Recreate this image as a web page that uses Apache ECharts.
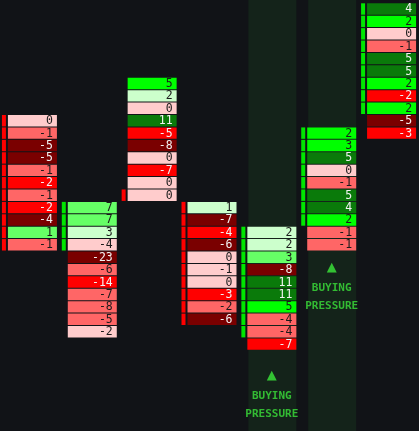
<!DOCTYPE html>
<html>
<head>
<meta charset="utf-8">
<script src="https://cdn.jsdelivr.net/npm/echarts@6/dist/echarts.min.js"></script>
<style>
html,body{margin:0;padding:0;background:#111317;}
#main{width:419px;height:431px;}
</style>
</head>
<body>
<div id="main"></div>
<script>
// first price row (from top) of each bar column
var startRow = [9, 16, 6, 16, 18, 10, 0];
// delta per price level
var deltas = [
	[0, -1, -5, -5, -1, -2, -1, -2, -4, 1, -1],
	[7, 7, 3, -4, -23, -6, -14, -7, -8, -5, -2],
	[5, 2, 0, 11, -5, -8, 0, -7, 0, 0],
	[1, -7, -4, -6, 0, -1, 0, -3, -2, -6],
	[2, 2, 3, -8, 11, 11, 5, -4, -4, -7],
	[2, 3, 5, 0, -1, 5, 4, 2, -1, -1],
	[4, 2, 0, -1, 5, 5, 2, -2, 2, -5, -3]
];
// strength of each cell: +4 strong buy ... -4 strong sell
var strength = [
	[-1, -2, -4, -4, -2, -3, -2, -3, -4, 2, -2],
	[2, 2, 1, -1, -4, -2, -3, -2, -2, -2, -1],
	[3, 1, -1, 4, -3, -4, -1, -3, -1, -1],
	[1, -4, -3, -4, -1, -1, -1, -3, -2, -4],
	[1, 1, 2, -4, 4, 4, 3, -2, -2, -3],
	[3, 3, 4, -1, -2, 4, 4, 3, -2, -2],
	[4, 3, -1, -2, 4, 4, 3, -3, 3, -4, -3]
];
// side marker: 1 buy imbalance, -1 sell imbalance, 0 none
var sideMark = [
	[-1, -1, -1, -1, -1, -1, -1, -1, -1, -1, -1],
	[1, 1, 1, 1, 0, 0, 0, 0, 0, 0, 0],
	[0, 0, 0, 0, 0, 0, 0, 0, 0, -1],
	[-1, -1, -1, -1, -1, -1, -1, -1, -1, -1],
	[1, 1, 1, 1, 1, 1, 1, 1, 1, 0],
	[1, 1, 1, 1, 1, 1, 1, 1, 0, 0],
	[1, 1, 1, 1, 1, 1, 1, 1, 1, 0, 0]
];
// columns flagged with buying pressure and the row of the arrow
var pressureCols = [4, 5];
var pressureRow = [29.5, 20.8];

var fillColor = {
	'4': '#0a7a0a', '3': '#00ff00', '2': '#66ff66', '1': '#ccffcc',
	'-1': '#ffcccc', '-2': '#ff6666', '-3': '#ff0000', '-4': '#7a0000'
};
var textColor = {
	'4': '#f2f2f2', '3': '#1a1a1a', '2': '#1a1a1a', '1': '#1a1a1a',
	'-1': '#1a1a1a', '-2': '#1a1a1a', '-3': '#f2f2f2', '-4': '#f2f2f2'
};

var cells = [];
for (var c = 0; c < deltas.length; c++) {
	for (var k = 0; k < deltas[c].length; k++) {
		cells.push([c, startRow[c] + k, deltas[c][k], strength[c][k], sideMark[c][k]]);
	}
}
var pressure = [];
for (var p = 0; p < pressureCols.length; p++) {
	pressure.push([pressureCols[p], pressureRow[p]]);
}

function renderCell(params, api) {
	var pt = api.coord([api.value(0), api.value(1)]);
	var h = api.size([1, 1])[1];
	var s = String(api.value(3));
	var top = pt[1] - (h - 1) / 2;
	var kids = [{
		type: 'rect',
		shape: {x: pt[0] - 22, y: top, width: 49, height: h - 1},
		style: {fill: fillColor[s]}
	}, {
		type: 'text',
		style: {
			x: pt[0] + 23, y: pt[1] + 0.5,
			text: String(api.value(2)),
			fill: textColor[s],
			font: '11.5px "DejaVu Sans Mono", monospace',
			align: 'right', verticalAlign: 'middle'
		}
	}];
	var m = api.value(4);
	if (m !== 0) {
		kids.push({
			type: 'rect',
			shape: {x: pt[0] - 28, y: top, width: 4, height: h - 1},
			style: {fill: m > 0 ? '#00e600' : '#ff0000'}
		});
	}
	return {type: 'group', children: kids};
}

function renderPressure(params, api) {
	var pt = api.coord([api.value(0), api.value(1)]);
	var cs = params.coordSys;
	var cx = pt[0] + 2.5;
	var font = 'bold 11px "DejaVu Sans Mono", monospace';
	return {
		type: 'group',
		children: [{
			// shaded column runs the whole height of the chart
			type: 'rect',
			shape: {x: pt[0] - 21, y: 0, width: 48, height: cs.y + cs.height},
			style: {fill: '#14231a'}
		}, {
			type: 'text',
			style: {x: cx, y: pt[1], text: '▲', fill: '#33c233',
				font: '13px "DejaVu Sans", sans-serif', align: 'center', verticalAlign: 'middle'}
		}, {
			type: 'text',
			style: {x: cx, y: pt[1] + 21, text: 'BUYING', fill: '#33bb33',
				font: font, align: 'center', verticalAlign: 'middle'}
		}, {
			type: 'text',
			style: {x: cx, y: pt[1] + 39, text: 'PRESSURE', fill: '#33bb33',
				font: font, align: 'center', verticalAlign: 'middle'}
		}]
	};
}

var myChart = echarts.init(document.getElementById('main'));
var option = {
	backgroundColor: '#111317',
	animation: false,
	grid: {left: 0, right: 0, top: 2.8, bottom: 0},
	xAxis: {type: 'value', min: -0.5, max: 6.5, show: false},
	yAxis: {type: 'value', min: -0.5, max: 34, inverse: true, show: false},
	series: [{
		type: 'custom',
		renderItem: renderPressure,
		data: pressure,
		silent: true,
		clip: false,
		z: 1
	}, {
		type: 'custom',
		renderItem: renderCell,
		data: cells,
		z: 2
	}]
};
myChart.setOption(option);
</script>
</body>
</html>
